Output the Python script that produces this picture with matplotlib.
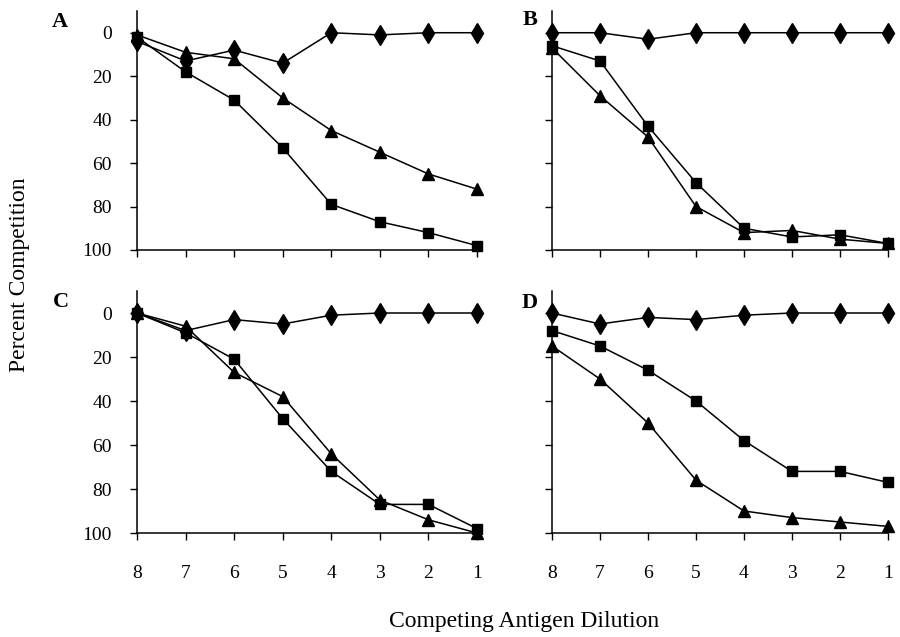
import numpy as np
import matplotlib
matplotlib.use('Agg')
import matplotlib.pyplot as plt

plt.rcParams['font.family'] = ['Liberation Serif', 'DejaVu Serif']

dilution = [8, 7, 6, 5, 4, 3, 2, 1]
y_ticks = [0, 20, 40, 60, 80, 100]

# percent competition per panel: diamond, square, triangle series
panel_a_diamond = [4, 13, 8, 14, 0, 1, 0, 0]
panel_a_square = [2, 18, 31, 53, 79, 87, 92, 98]
panel_a_triangle = [1, 9, 12, 30, 45, 55, 65, 72]

panel_b_diamond = [0, 0, 3, 0, 0, 0, 0, 0]
panel_b_square = [6, 13, 43, 69, 90, 94, 93, 97]
panel_b_triangle = [7, 29, 48, 80, 92, 91, 95, 97]

panel_c_diamond = [0, 8, 3, 5, 1, 0, 0, 0]
panel_c_square = [0, 9, 21, 48, 72, 87, 87, 98]
panel_c_triangle = [0, 6, 27, 38, 64, 85, 94, 100]

panel_d_diamond = [0, 5, 2, 3, 1, 0, 0, 0]
panel_d_square = [8, 15, 26, 40, 58, 72, 72, 77]
panel_d_triangle = [15, 30, 50, 76, 90, 93, 95, 97]

panels = [
    ('A', panel_a_diamond, panel_a_square, panel_a_triangle),
    ('B', panel_b_diamond, panel_b_square, panel_b_triangle),
    ('C', panel_c_diamond, panel_c_square, panel_c_triangle),
    ('D', panel_d_diamond, panel_d_square, panel_d_triangle),
]

W, H = 900, 637
fig = plt.figure(figsize=(9, 6.37), dpi=100)

# pixel boxes (left, top, right, bottom)
boxes = {
    'A': (137, 11, 477, 250),
    'B': (552, 11, 888, 250),
    'C': (137, 291, 477, 533),
    'D': (552, 291, 888, 533),
}
letter_pos = {'A': (60, 22), 'B': (530, 20), 'C': (61, 302), 'D': (530, 303)}

for name, dia, sq, tri in panels:
    l, t, r, b = boxes[name]
    ax = fig.add_axes([l / W, 1 - b / H, (r - l) / W, (b - t) / H])
    ax.plot(dilution, dia, '-', color='black', lw=1.1, marker='d',
            markersize=10, clip_on=False, zorder=3)
    ax.plot(dilution, sq, '-', color='black', lw=1.1, marker='s',
            markersize=7, clip_on=False, zorder=3)
    ax.plot(dilution, tri, '-', color='black', lw=1.1, marker='^',
            markersize=8, clip_on=False, zorder=3)
    ax.set_xlim(8, 1)
    ax.set_ylim(100, -10)
    ax.set_xticks(dilution)
    ax.set_yticks(y_ticks)
    ax.spines['top'].set_visible(False)
    ax.spines['right'].set_visible(False)
    ax.spines['left'].set_linewidth(1.1)
    ax.spines['bottom'].set_linewidth(1.1)
    ax.tick_params(direction='out', length=5, width=1, labelsize=14)
    ax.tick_params(axis='x', pad=18)
    ax.tick_params(axis='y', pad=13)
    if name in ('A', 'B'):
        ax.set_xticklabels([])
    if name in ('B', 'D'):
        ax.set_yticklabels([])
    ax.patch.set_alpha(0)
    fig.text(letter_pos[name][0] / W, 1 - letter_pos[name][1] / H, name,
             fontsize=16, fontweight='bold', ha='center', va='center')

fig.text(20 / W, 1 - 275 / H, 'Percent Competition', rotation=90,
         fontsize=17, ha='center', va='center')
fig.text(524 / W, 1 - 622 / H, 'Competing Antigen Dilution',
         fontsize=17, ha='center', va='center')

fig.savefig('out.png', dpi=100)
